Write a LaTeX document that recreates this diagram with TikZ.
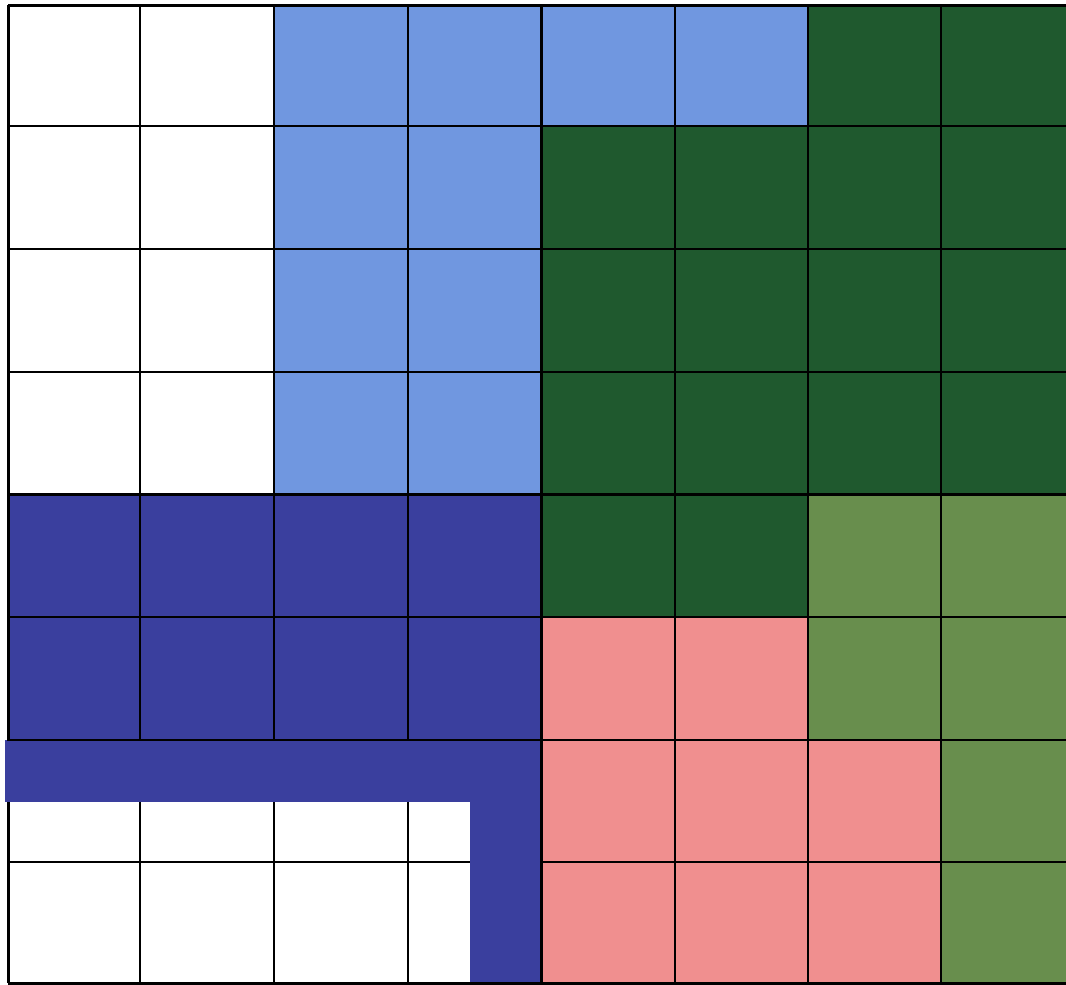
\documentclass[tikz,border=0pt]{standalone}
\definecolor{lb}{RGB}{112,151,224}
\definecolor{dg}{RGB}{31,89,46}
\definecolor{og}{RGB}{104,142,77}
\definecolor{nb}{RGB}{58,63,158}
\definecolor{pk}{RGB}{240,143,143}
\begin{document}
\begin{tikzpicture}[x=1pt,y=-1pt,
  gridline/.style={line width=2pt,black},
  heavyline/.style={line width=3pt,black}]
\useasboundingbox (0,0) rectangle (1066,985);
\fill[white] (0,0) rectangle (1066,985);
% light blue
\fill[lb] (274,5) rectangle (808,126);
\fill[lb] (274,126) rectangle (541,494);
% dark green
\fill[dg] (808,5) rectangle (1066,126);
\fill[dg] (541,126) rectangle (1066,494);
\fill[dg] (541,494) rectangle (808,617);
% olive green
\fill[og] (808,494) rectangle (1066,740);
\fill[og] (941,740) rectangle (1066,983);
% navy
\fill[nb] (8,494) rectangle (541,740);
\fill[nb] (5,740) rectangle (541,802);
\fill[nb] (470,802) rectangle (541,983);
% pink
\fill[pk] (541,617) rectangle (808,740);
\fill[pk] (541,740) rectangle (941,983);
% vertical lines
\foreach \x in {140,274,408} {
  \draw[gridline] (\x,5) -- (\x,740);
  \draw[gridline] (\x,802) -- (\x,983);
}
\draw[heavyline] (8,5) -- (8,741);
\draw[heavyline] (8,802) -- (8,983);
\draw[heavyline] (541,5) -- (541,983);
\foreach \x in {675,808,941} \draw[gridline] (\x,5) -- (\x,983);
% horizontal lines
\draw[heavyline] (8,5) -- (1066,5);
\foreach \y in {126,249,372,617,740} \draw[gridline] (8,\y) -- (1066,\y);
\draw[heavyline] (8,494) -- (1066,494);
\draw[gridline] (8,862) -- (470,862);
\draw[gridline] (541,862) -- (1066,862);
\draw[heavyline] (8,983) -- (1066,983);
\end{tikzpicture}
\end{document}
